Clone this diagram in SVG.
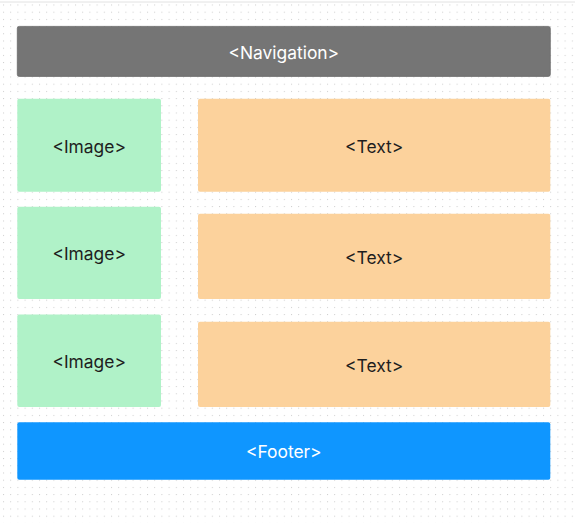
<svg xmlns="http://www.w3.org/2000/svg" width="575" height="523" viewBox="0 0 575 523">
  <defs>
    <pattern id="dots" x="3" y="4.5" width="7.2" height="7.2" patternUnits="userSpaceOnUse">
      <rect x="0" y="0" width="1" height="1" fill="#cccccc"/>
    </pattern>
  </defs>
  <style>
    .lbl { font-family: Inter, "Noto Sans", "Liberation Sans", sans-serif; font-size: 17.4px; text-anchor: middle; dominant-baseline: central; }
    .dark { fill: #1e1e1e; }
    .light { fill: #ffffff; }
    .nav { fill: #757575; stroke: #6a6a6a; stroke-width: 0.8; }
    .img { fill: #b0f2c8; }
    .txt { fill: #fcd29c; }
    .foot { fill: #0f96ff; }
  </style>
  <rect width="575" height="523" fill="#ffffff"/>
  <rect width="575" height="523" fill="url(#dots)"/>
  <line x1="0" y1="2" x2="575" y2="2" stroke="#e2e2e2" stroke-width="1"/>

  <g id="navigation">
    <rect class="nav" x="17.3" y="26.4" width="533" height="50" rx="2"/>
    <text class="lbl light" x="283.8" y="52.2">&lt;Navigation&gt;</text>
  </g>

  <g id="image1">
    <rect class="img" x="17.3" y="98.7" width="143.7" height="93" rx="2"/>
    <text class="lbl dark" x="89.2" y="146">&lt;Image&gt;</text>
  </g>
  <g id="text1">
    <rect class="txt" x="198" y="98.7" width="352.3" height="93" rx="2"/>
    <text class="lbl dark" x="374.2" y="146">&lt;Text&gt;</text>
  </g>

  <g id="image2">
    <rect class="img" x="17.3" y="206.7" width="143.7" height="92.3" rx="2"/>
    <text class="lbl dark" x="89.2" y="253.7">&lt;Image&gt;</text>
  </g>
  <g id="text2">
    <rect class="txt" x="198" y="213.7" width="352.3" height="85.3" rx="2"/>
    <text class="lbl dark" x="374.2" y="257.2">&lt;Text&gt;</text>
  </g>

  <g id="image3">
    <rect class="img" x="17.3" y="314.5" width="143.7" height="92.5" rx="2"/>
    <text class="lbl dark" x="89.2" y="361.6">&lt;Image&gt;</text>
  </g>
  <g id="text3">
    <rect class="txt" x="198" y="321.7" width="352.3" height="85.3" rx="2"/>
    <text class="lbl dark" x="374.2" y="365.2">&lt;Text&gt;</text>
  </g>

  <g id="footer">
    <rect class="foot" x="17.3" y="422.3" width="533" height="57.4" rx="2"/>
    <text class="lbl light" x="283.8" y="451.8">&lt;Footer&gt;</text>
  </g>

  <g id="connectors"></g>
</svg>
